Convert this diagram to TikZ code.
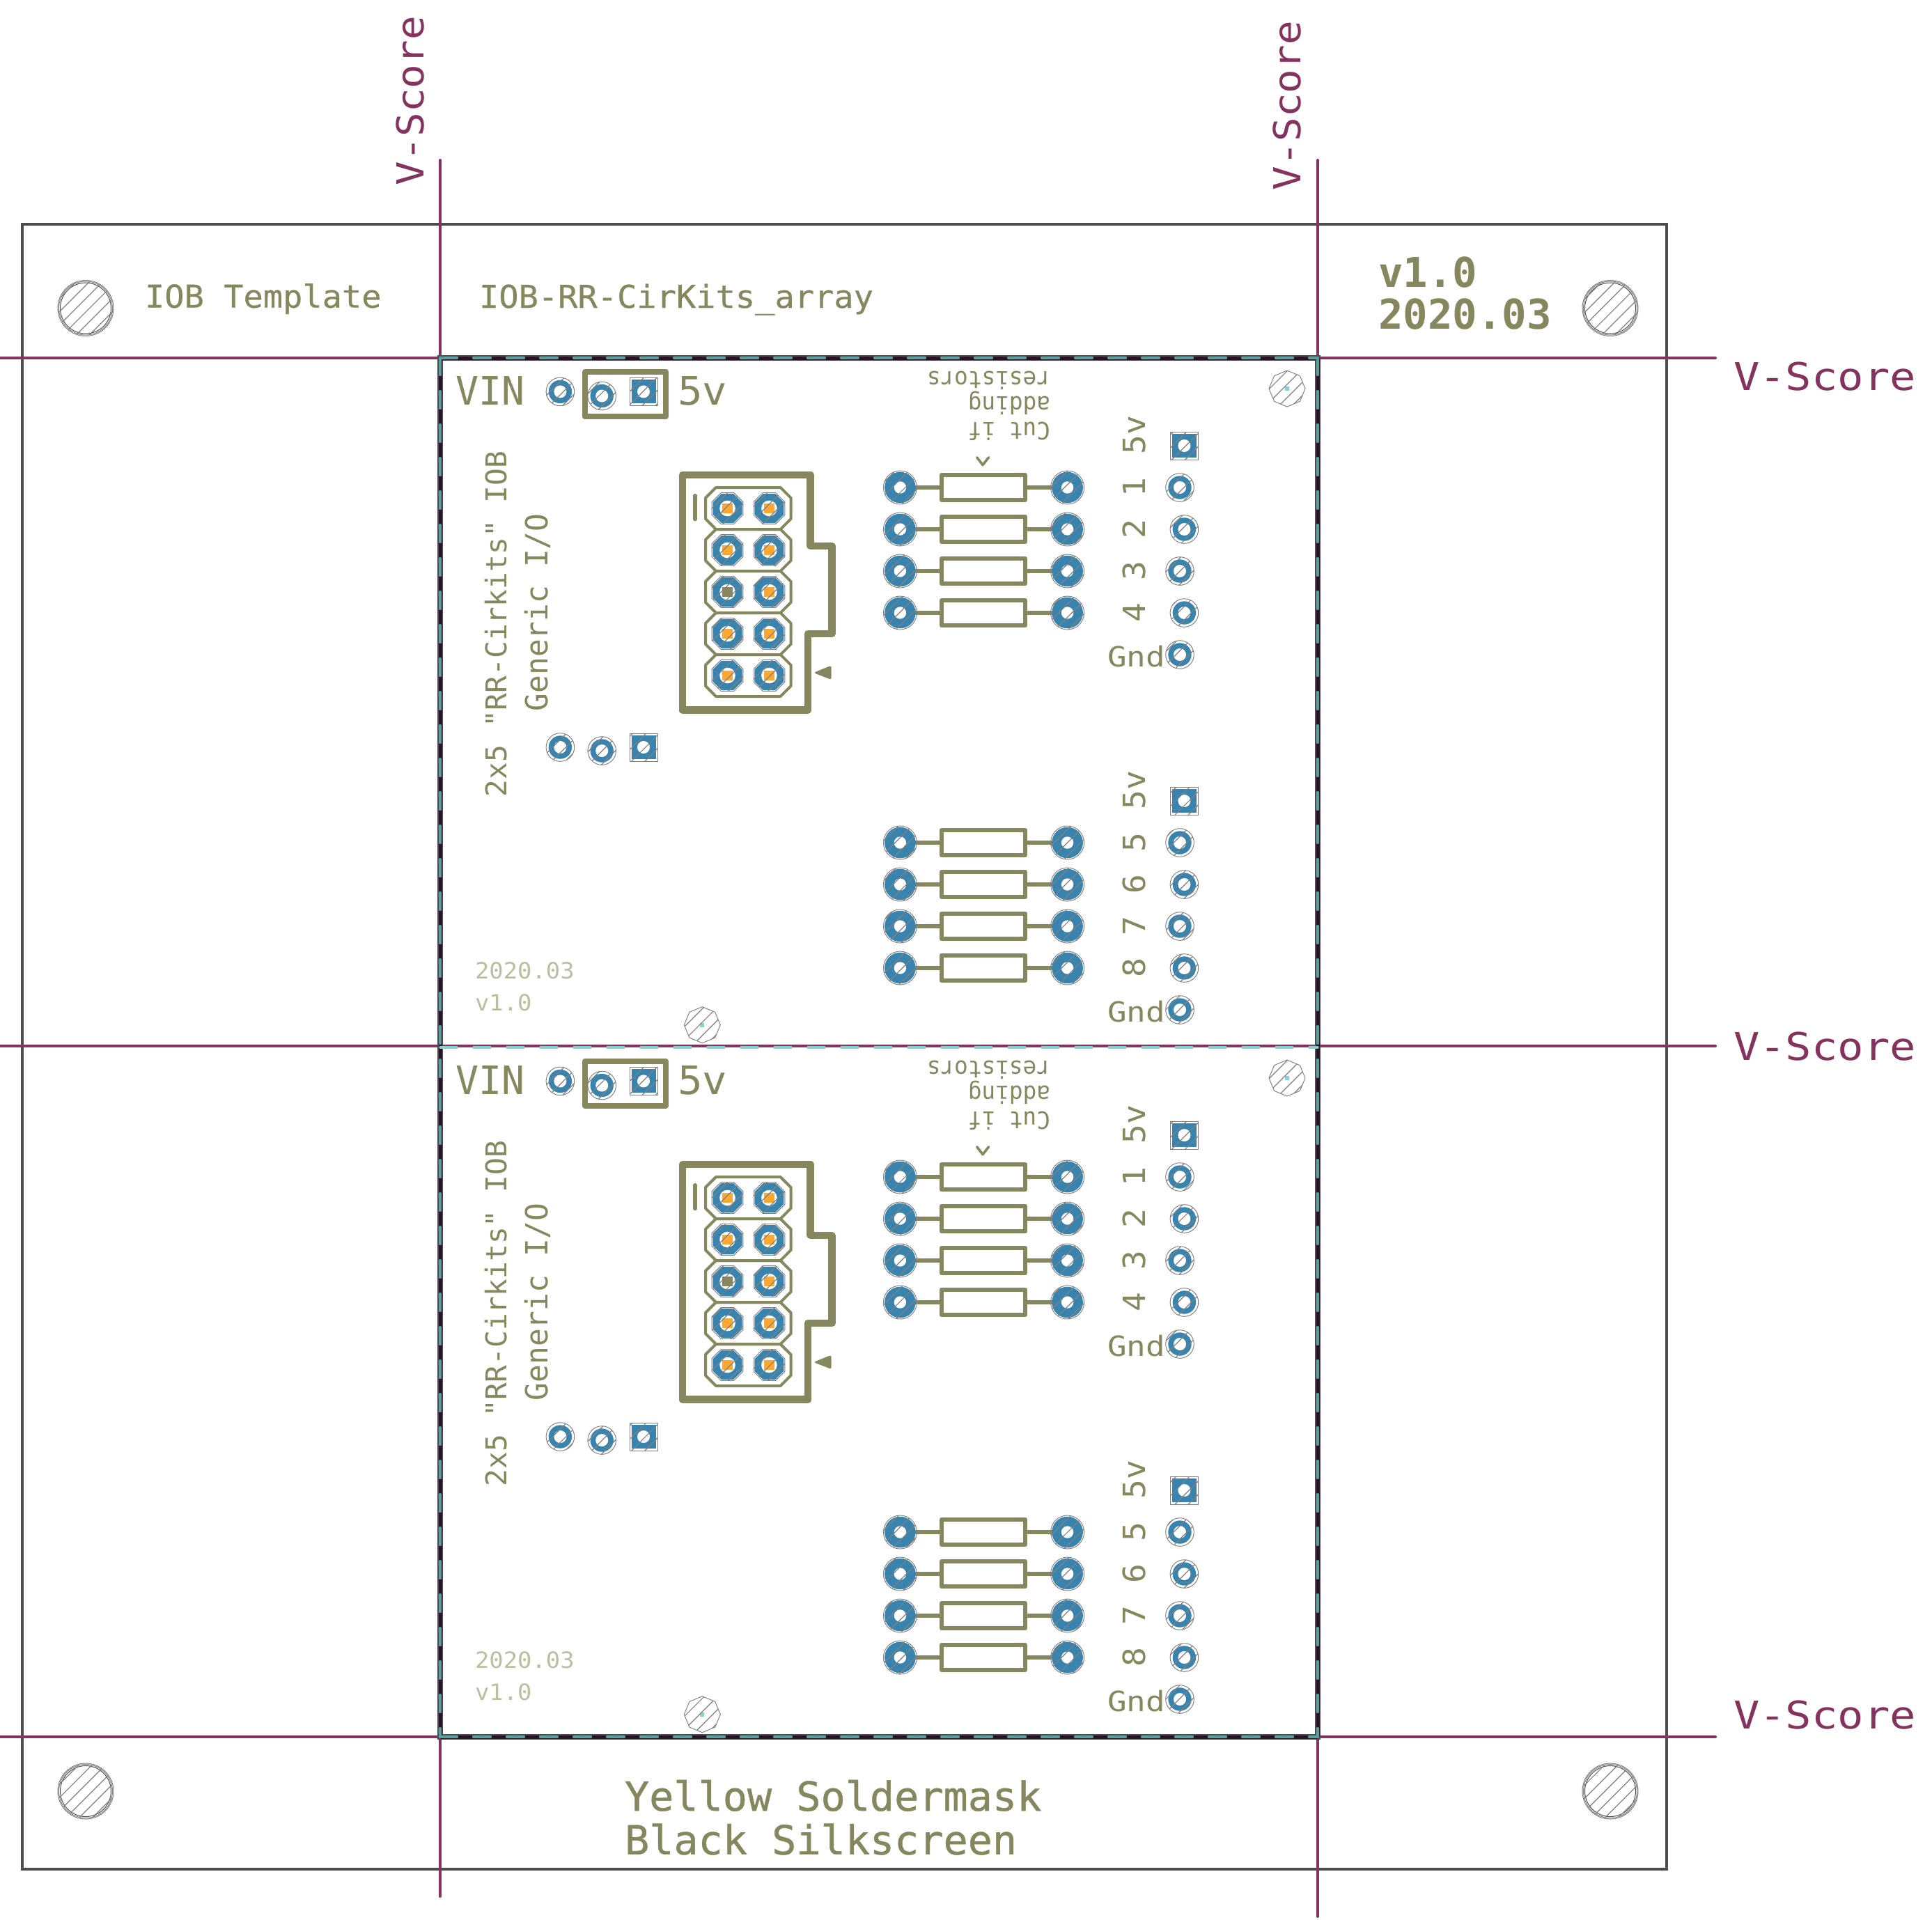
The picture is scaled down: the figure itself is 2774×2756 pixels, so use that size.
\documentclass[tikz,border=0pt]{standalone}
\usepackage{fontspec}
\definecolor{silk}{HTML}{87875F}
\definecolor{score}{HTML}{84325E}
\definecolor{padblue}{HTML}{3884AE}
\definecolor{pingold}{HTML}{FFA830}
\definecolor{teal1}{HTML}{5AA0A0}
\definecolor{teal2}{HTML}{82D4D4}
\definecolor{edge}{HTML}{4D4D4D}
\definecolor{panelink}{HTML}{2A1428}
\definecolor{hatch}{HTML}{808080}
\definecolor{thinsilk}{HTML}{BDBDA2}
\newfontfamily\cadA[FakeStretch=1.04,FakeBold=0.4]{DejaVu Sans Mono}
\newfontfamily\cadB[FakeStretch=1.135]{DejaVu Sans Mono}
\newfontfamily\cadC[FakeStretch=1.075]{DejaVu Sans Mono}
\newfontfamily\cadD[FakeStretch=1.0]{DejaVu Sans Mono}
\newfontfamily\cadJ[FakeStretch=0.975]{DejaVu Sans Mono}
\newfontfamily\cadE[FakeStretch=1.05]{DejaVu Sans Mono}
\newfontfamily\cadF[FakeStretch=1.15]{DejaVu Sans Mono}
\newfontfamily\cadG[FakeStretch=0.95]{DejaVu Sans Mono}
\newfontfamily\cadH[FakeStretch=1.015,FakeBold=0.8]{DejaVu Sans Mono}
\newfontfamily\cadI[FakeStretch=1.0]{DejaVu Sans Mono Bold}
\newcommand\octa[3]{(#1+#3,#2-.414*#3) -- (#1+#3,#2+.414*#3) -- (#1+.414*#3,#2+#3) -- (#1-.414*#3,#2+#3) -- (#1-#3,#2+.414*#3) -- (#1-#3,#2-.414*#3) -- (#1-.414*#3,#2-#3) -- (#1+.414*#3,#2-#3) -- cycle}
\newcommand\octb[3]{(#1+#3,#2) -- (#1+.707*#3,#2+.707*#3) -- (#1,#2+#3) -- (#1-.707*#3,#2+.707*#3) -- (#1-#3,#2) -- (#1-.707*#3,#2-.707*#3) -- (#1,#2-#3) -- (#1+.707*#3,#2-.707*#3) -- cycle}
\newcommand\pinrow[1]{(1028,#1-30) -- (1120.6,#1-30) -- (1135.6,#1-15) -- (1135.6,#1+15) -- (1120.6,#1+30) -- (1028,#1+30) -- (1013,#1+15) -- (1013,#1-15) -- cycle}
\tikzset{
  x=.25pt,y=-.25pt,
  cad/.style={inner sep=0pt,outer sep=0pt,anchor=base west,text=silk},
  cadscore/.style={cad,text=score},
  silkline/.style={draw=silk,line join=round,line cap=round},
  scoreline/.style={draw=score,line width=1pt,line cap=round},
  fine/.style={draw=hatch,line width=.24pt},
  hatchline/.style={draw=hatch,line width=.3pt},
  teal dash/.style={line width=1.1pt,line cap=round,dash pattern=on 6pt off 6pt}
}
\begin{document}
\begin{tikzpicture}
\useasboundingbox (0,0) rectangle (2774,2756);
\fill[white] (0,0) rectangle (2774,2756);
% board outline
\draw[draw=edge,line width=1pt,line join=miter] (32,322) rectangle (2393,2684);
% V-score lines
\draw[scoreline] (632,230) -- (632,2723);
\draw[scoreline] (1892,230) -- (1892,2752);
\foreach \hy in {514,1502,2494} \draw[scoreline] (0,\hy) -- (2463,\hy);
% big mounting holes
\foreach \hx/\hy in {123/442.5,2312/442.5,123/2572,2312/2572}{
  \draw[fine] (\hx,\hy) circle (40);
  \draw[fine] (\hx,\hy) circle (38.5);
  \draw[draw=edge,line width=.25pt] (\hx,\hy) circle (36.5);
}
\begin{scope}
\clip \foreach \hx/\hy in {123/442.5,2312/442.5,123/2572,2312/2572}{ (\hx,\hy) circle (39) };
\foreach \k in {-20,...,240}{
  \pgfmathsetmacro\hc{533+19.05*\k}
  \draw[hatchline] (\hc,0) -- (\hc-2756,2756);
}
\end{scope}
% panel outline
\draw[draw=edge,line width=2pt] (632,514) rectangle (1892,2494);
\draw[draw=panelink,line width=1.25pt] (632,514) -- (632,2494);
\draw[draw=panelink,line width=1.25pt] (1892,514) -- (1892,2494);
\draw[draw=panelink,line width=1.25pt] (632,514) -- (1892,514);
\draw[draw=panelink,line width=1.25pt] (632,2494) -- (1892,2494);
\draw[draw=teal1,teal dash] (632,514) -- (1892,514);
\draw[draw=teal1,teal dash] (632,514) -- (632,2494);
\draw[draw=teal1,teal dash] (1892,514) -- (1892,2494);
\draw[draw=teal1,teal dash] (632,2494) -- (1892,2494);
\draw[draw=teal2,teal dash,line width=.85pt] (632,1504) -- (1892,1504);
% outer text
\node[cad,font=\fontsize{11.3pt}{11.3pt}\cadA] (title) at (208,441.7) {IOB Template};
\node[cad,font=\fontsize{11.3pt}{11.3pt}\cadA] (arrayname) at (688,442) {IOB-RR-CirKits\_array};
\node[cad,font=\fontsize{14.75pt}{14.75pt}\cadI] (ver) at (1979,412.5) {v1.0};
\node[cad,font=\fontsize{14.75pt}{14.75pt}\cadI] (date) at (1979,472.6) {2020.03};
\node[cad,font=\fontsize{14.4pt}{14.4pt}\cadH] (mask) at (897,2600) {Yellow Soldermask};
\node[cad,font=\fontsize{14.4pt}{14.4pt}\cadH] (silk) at (897,2662.7) {Black Silkscreen};
\node[cadscore,font=\fontsize{13.7pt}{13.7pt}\cadB] (vs1) at (2489,560.6) {V-Score};
\node[cadscore,font=\fontsize{13.7pt}{13.7pt}\cadB] (vs2) at (2489,1522) {V-Score};
\node[cadscore,font=\fontsize{13.7pt}{13.7pt}\cadB] (vs3) at (2489,2482) {V-Score};
\node[cadscore,rotate=90,font=\fontsize{13.4pt}{13.4pt}\cadC] (vs4) at (608,266) {V-Score};
\node[cadscore,rotate=90,font=\fontsize{13.4pt}{13.4pt}\cadC] (vs5) at (1867,273) {V-Score};
% the two panels
\foreach \dy/\pn in {0/a,990/b}{
\begin{scope}[shift={(0,\dy)}]
  % jumper box
  \draw[silkline,line width=2.1pt] (840,533.7) rectangle (956,598);
  % connector shroud
  \draw[silkline,line width=2.7pt] (980,682) -- (1163.8,682) -- (1163.8,784) -- (1194.5,784) -- (1194.5,910) -- (1160,910) -- (1160,1019.7) -- (980,1019.7) -- cycle;
  \foreach \ry in {730,790,850,910,970} \draw[silkline,line width=1pt] \pinrow{\ry};
  \draw[silkline,line width=1.3pt] (998,711.6) -- (998,745.7);
  \fill[silk,rounded corners=.8pt] (1168,966) -- (1193.7,955.5) -- (1193.7,976) -- cycle;
  % resistors
  \foreach \ry in {700,760,820,880,1210,1270,1330,1390}{
    \draw[silkline,line width=1.5pt] (1292.4,\ry) -- (1351.8,\ry);
    \draw[silkline,line width=1.5pt] (1472.3,\ry) -- (1532.6,\ry);
    \draw[silkline,line width=1.5pt] (1351.8,\ry-18.3) rectangle (1472.3,\ry+18.3);
    \foreach \rx in {1292.4,1532.6}{
      \fill[padblue] (\rx,\ry) circle (22.3);
      \draw[fine] (\rx,\ry) circle (24);
      \fill[white] (\rx,\ry) circle (8.7);
    }
  }
  % small round pads
  \foreach \px/\py in {804.4/562.4,864.2/568.5,804.4/1073,864.2/1078,1694/700,1700.4/760,1694/820,1700.4/880,1694/940,1694/1210,1700.4/1270,1694/1330,1700.4/1390,1694/1450}{
    \fill[padblue] (\px,\py) circle (16.7);
    \draw[fine] (\px,\py) circle (20.3);
    \fill[white] (\px,\py) circle (9);
  }
  % square pads
  \foreach \px/\py in {924/562.4,924/1073,1700.4/640,1700.4/1150}{
    \fill[padblue] (\px-17.5,\py-17) rectangle (\px+17.5,\py+17);
    \draw[fine] (\px-20,\py-20) rectangle (\px+20,\py+20);
    \fill[white] (\px,\py) circle (9);
  }
  % connector pads
  \foreach \py in {730,790,850,910,970}{
    \foreach \px in {1044.5,1104.4}{
      \fill[padblue] \octa{\px}{\py}{21};
      \draw[fine] \octa{\px}{\py}{22.4};
      \fill[white] (\px,\py) circle (11.3);
      \fill[pingold] (\px-7.2,\py-7) rectangle (\px+7.2,\py+7);
    }
  }
  \fill[silk] (1044.5-7.2,850-7) rectangle (1044.5+7.2,850+7);
  % fiducials
  \foreach \px/\py in {1848/558,1008.3/1471.7}{
    \draw[fine] \octb{\px}{\py}{26};
    \fill[teal2] (\px-3,\py-3) rectangle (\px+3,\py+3);
  }
  % hatching
  \begin{scope}
    \clip \foreach \px/\py in {804.4/562.4,864.2/568.5,804.4/1073,864.2/1078,1694/700,1700.4/760,1694/820,1700.4/880,1694/940,1694/1210,1700.4/1270,1694/1330,1700.4/1390,1694/1450}{ (\px,\py) circle (20.3) }
      \foreach \ry in {700,760,820,880,1210,1270,1330,1390}{ (1292.4,\ry) circle (24) (1532.6,\ry) circle (24) }
      \foreach \px/\py in {924/562.4,924/1073,1700.4/640,1700.4/1150}{ (\px-20,\py-20) rectangle (\px+20,\py+20) }
      \foreach \py in {730,790,850,910,970}{ \octa{1044.5}{\py}{22.4} \octa{1104.4}{\py}{22.4} }
      \octb{1848}{558}{26} \octb{1008.3}{1471.7}{26};
    \foreach \k in {40,...,160}{
      \pgfmathsetmacro\hc{533+19.05*\k}
      \draw[hatchline] (\hc-500,500) -- (\hc-1600,1600);
    }
  \end{scope}
  % labels
  \node[cad,font=\fontsize{14.06pt}{14.06pt}\cadJ] (vin\pn) at (654,581.5) {VIN};
  \node[cad,font=\fontsize{14.06pt}{14.06pt}\cadE] (five\pn) at (973,581.5) {5v};
  \node[cad,rotate=90,font=\fontsize{10.3pt}{10.3pt}\cadD] (rr\pn) at (727,1144) {2x5 "RR-Cirkits" IOB};
  \node[cad,rotate=90,font=\fontsize{10.97pt}{10.97pt}\cadJ] (gen\pn) at (786,1021) {Generic I/O};
  \node[cad,rotate=180,font=\fontsize{8.6pt}{8.6pt}\cadG] (cut\pn) at (1508,606.7) {Cut if};
  \node[cad,rotate=180,font=\fontsize{8.6pt}{8.6pt}\cadG] (add\pn) at (1508,569.5) {adding};
  \node[cad,rotate=180,font=\fontsize{8.6pt}{8.6pt}\cadG] (res\pn) at (1508,533.3) {resistors};
  \draw[silkline,line width=.9pt] (1402.7,656.7) -- (1411,667.7) -- (1419.6,656.7);
  \foreach \ly/\lt/\ln in {700/1/a,760/2/b,820/3/c,880/4/d,1210/5/e,1270/6/f,1330/7/g,1390/8/h}{
    \node[cad,anchor=base,rotate=90,font=\fontsize{11pt}{11pt}\cadE] (num\pn\ln) at (1644,\ly) {\lt};
  }
  \node[cad,rotate=90,font=\fontsize{11pt}{11pt}\cadE] (fa\pn) at (1644,652) {5v};
  \node[cad,rotate=90,font=\fontsize{11pt}{11pt}\cadE] (fb\pn) at (1644,1162) {5v};
  \node[cad,font=\fontsize{10pt}{10pt}\cadF] (ga\pn) at (1590,957.3) {Gnd};
  \node[cad,font=\fontsize{10pt}{10pt}\cadF] (gb\pn) at (1590,1467.3) {Gnd};
  \node[cad,text=thinsilk,font=\fontsize{8.06pt}{8.06pt}\cadE] (da\pn) at (682,1405.7) {2020.03};
  \node[cad,text=thinsilk,font=\fontsize{8.06pt}{8.06pt}\cadE] (ve\pn) at (682,1451) {v1.0};
\end{scope}
}
\end{tikzpicture}
\end{document}
